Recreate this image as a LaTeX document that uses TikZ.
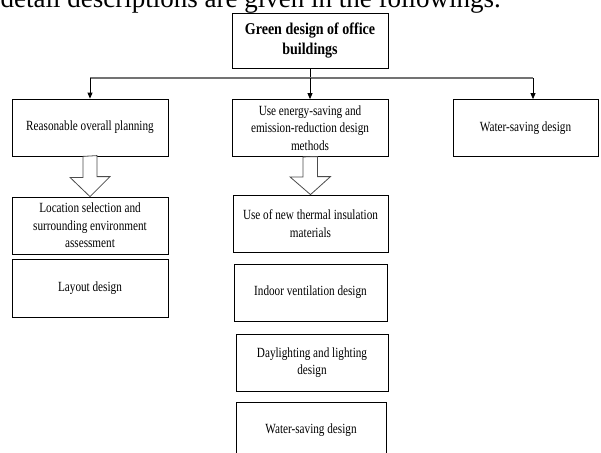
\documentclass[tikz,border=0pt]{standalone}
\usepackage{fontspec}
\setmainfont{Liberation Serif}
\newfontfamily\boxfont[FakeStretch=0.8]{Liberation Serif}
\newfontfamily\rootfont[FakeStretch=0.85]{Liberation Serif}
\usetikzlibrary{arrows.meta}
\begin{document}
\begin{tikzpicture}[x=1pt,y=-1pt,
        box/.style={draw,line width=0.8pt,inner sep=0pt,align=center,
            minimum width=156,minimum height=57,
            font=\boxfont\fontsize{14}{17.5}\selectfont},
        link/.style={line width=0.8pt,-{Triangle[length=6pt,width=5pt]}},
        bar/.style={line width=1.4pt,black!55},
        hollow/.style={line width=0.8pt,draw=black!70,fill=white,line join=miter}]
                \useasboundingbox (0,0) rectangle (601,452);
                \clip (0,0) rectangle (601,452);
                \node[anchor=base west,inner sep=0pt,font=\fontsize{27}{30}\selectfont]
                    (intro) at (0.5,7.5) {detail descriptions are given in the followings.};
                \node[box,minimum height=55,font=\rootfont\bfseries\fontsize{16.5}{20.5}\selectfont]
                    (root) at (310,40.5) {Green design of office\\buildings};
                \node[box] (plan) at (90,127.5) {Reasonable overall planning};
                \node[box] (energy) at (310,128)
                    {Use energy-saving and\\emission-reduction design\\methods};
                \node[box,minimum width=145] (water) at (525.5,128) {Water-saving design};
                \node[box] (location) at (90,225.5)
                    {Location selection and\\surrounding environment\\assessment};
                \node[box,minimum height=58] (layout) at (90,288) {Layout design};
                \node[box,minimum width=155] (thermal) at (310.5,223.5)
                    {Use of new thermal insulation\\materials};
                \node[box,minimum width=153] (vent) at (310.5,292.5) {Indoor ventilation design};
                \node[box,minimum width=152] (daylight) at (312,362.5)
                    {Daylighting and lighting\\design};
                \node[box,minimum width=150] (water2) at (311,430.5) {Water-saving design};
                \coordinate (fork) at (310,78);
                \coordinate (wtop) at ([xshift=7.5pt]water.north);
                \draw[line width=0.8pt]
                    (root) -- (fork);
                \draw[bar]
                    (plan.north |- fork) -- (wtop |- fork);
                \draw[link]
                    (plan.north |- fork) -- (plan.north);
                \draw[link]
                    (fork) -- (energy.north);
                \draw[link]
                    (wtop |- fork) -- (wtop);
                \draw[hollow]
                    (plan.south) ++(-7,0) -- ++(0,21) -- ++(-13,0) -- (location.north)
                    -- ++(20,-20) -- ++(-13,0) -- ++(0,-21) -- cycle;
                \draw[hollow]
                    (energy.south) ++(-7,0) -- ++(0,20) -- ++(-13,0) -- (thermal.north)
                    -- ++(20,-18) -- ++(-13,0) -- ++(0,-20) -- cycle;
            \end{tikzpicture}
\end{document}
